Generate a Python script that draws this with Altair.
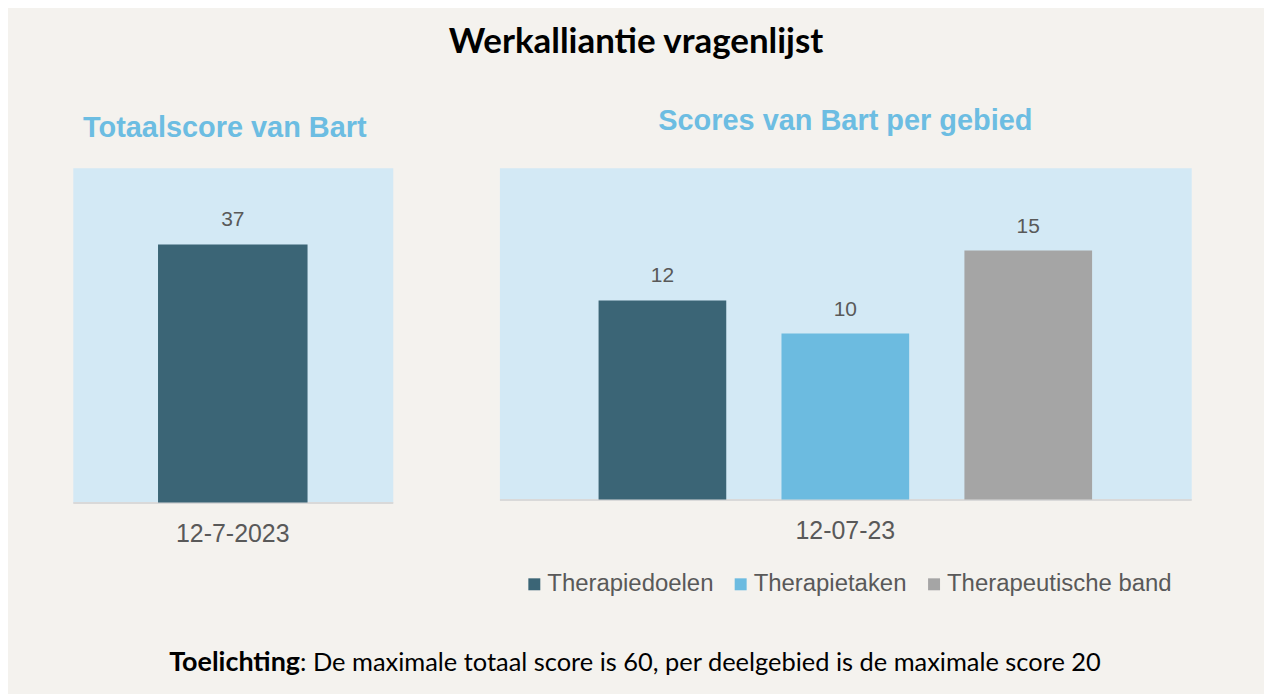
import altair as alt
import pandas as pd

# ---- data ----
total_dates = ["12-7-2023"]
total_scores = [37]

area_date = "12-07-23"
areas = ["Therapiedoelen", "Therapietaken", "Therapeutische band"]
area_scores = [12, 10, 15]
area_colors = ["#3B6576", "#6CBBE0", "#A5A5A5"]

note_bold = ["Toelichting"]
note_rest = [": De maximale totaal score is 60, per deelgebied  is de maximale score 20"]

BG = "#F4F2EE"
PANEL = "#D3E9F5"
GREY_TXT = "#595959"
BLUE_TXT = "#6CBDE2"
SANS = "Liberation Sans, Arial, sans-serif"
HEAD = "Lato, Open Sans, sans-serif"

left_df = pd.DataFrame({"datum": total_dates, "score": total_scores})
right_df = pd.DataFrame({"datum": [area_date] * len(areas), "gebied": areas, "score": area_scores})

x_axis = alt.Axis(title=None, labelAngle=0, ticks=False, labelFont=SANS, labelFontSize=25,
                  labelColor=GREY_TXT, labelPadding=19, domainColor="#D9D9D9", domainWidth=2)

# ---- left panel ----
lbase = alt.Chart(left_df).encode(
    x=alt.X("datum:N", axis=x_axis, scale=alt.Scale(paddingInner=0, paddingOuter=0.57)),
    y=alt.Y("score:Q", axis=None, scale=alt.Scale(domain=[0, 48])),
)
left = alt.layer(
    lbase.mark_bar(color="#3B6576"),
    lbase.mark_text(font=SANS, fontSize=21, color=GREY_TXT, baseline="alphabetic", dy=-18).encode(text="score:Q"),
).properties(
    width=321, height=336,
    view=alt.ViewBackground(fill=PANEL, stroke="transparent"),
    title=alt.TitleParams("Totaalscore van Bart", font=SANS, fontSize=29, fontWeight="bold",
                          color=BLUE_TXT, anchor="middle", offset=25, dx=-8),
)

# ---- right panel ----
rbase = alt.Chart(right_df).encode(
    x=alt.X("datum:N", axis=x_axis, scale=alt.Scale(paddingInner=0, paddingOuter=0)),
    xOffset=alt.XOffset("gebied:N", sort=areas, scale=alt.Scale(paddingInner=0.302, paddingOuter=0.542)),
    y=alt.Y("score:Q", axis=None, scale=alt.Scale(domain=[0, 20])),
)
right = alt.layer(
    rbase.mark_bar().encode(
        color=alt.Color("gebied:N", sort=areas,
                        scale=alt.Scale(domain=areas, range=area_colors),
                        legend=alt.Legend(title=None, orient="none", direction="horizontal",
                                          legendX=23, legendY=406,
                                          symbolType="square", symbolSize=144, symbolStrokeWidth=0,
                                          labelFont=SANS, labelFontSize=24, labelColor=GREY_TXT,
                                          labelLimit=400, labelOffset=1, columnPadding=15)),
    ),
    rbase.mark_text(font=SANS, fontSize=21, color=GREY_TXT, baseline="alphabetic", dy=-18).encode(text="score:Q"),
).properties(
    width=694, height=333,
    view=alt.ViewBackground(fill=PANEL, stroke="transparent"),
    title=alt.TitleParams("Scores van Bart per gebied", font=SANS, fontSize=29, fontWeight="bold",
                          color=BLUE_TXT, anchor="middle", offset=32),
)

panels = alt.hconcat(left, right, spacing=105).resolve_scale(color="independent").resolve_legend(color="independent")

# ---- footnote ----
foot_b = alt.Chart(pd.DataFrame({"t": note_bold})).mark_text(
    font=HEAD, fontSize=27, fontWeight="bold", color="#000000", align="right", baseline="middle"
).encode(text="t:N", x=alt.value(228), y=alt.value(20))
foot_r = alt.Chart(pd.DataFrame({"t": note_rest})).mark_text(
    font=HEAD, fontSize=25.5, color="#000000", align="left", baseline="middle"
).encode(text="t:N", x=alt.value(228), y=alt.value(20))
foot = alt.layer(foot_b, foot_r).properties(
    width=1120, height=40, view=alt.ViewBackground(fill="transparent", stroke="transparent")
)

chart = alt.vconcat(panels, foot, spacing=45).properties(
    title=alt.TitleParams("Werkalliantie vragenlijst", font=HEAD, fontSize=35, fontWeight="bold",
                          color="#000000", anchor="middle", offset=47, dx=4),
    background=BG,
    padding={"left": 64, "top": 15, "right": 72, "bottom": 40},
).configure_view(stroke="transparent")

chart.save("out.html", embed_options={"renderer": "svg", "actions": False})
